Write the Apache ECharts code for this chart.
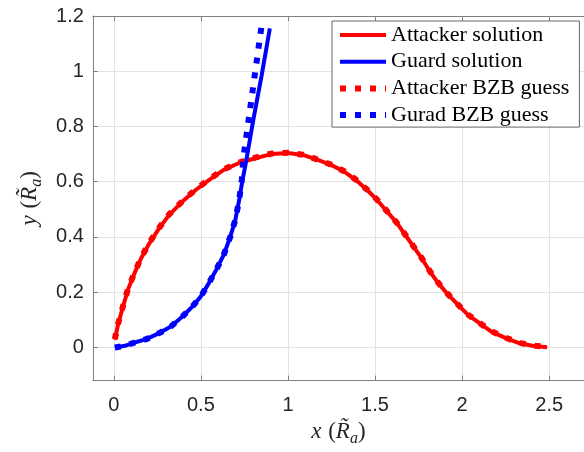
<!DOCTYPE html>
<html><head><meta charset="utf-8">
<script src="https://cdn.jsdelivr.net/npm/echarts@6/dist/echarts.min.js"></script>
<style>html,body{margin:0;padding:0;background:#fff}#c{width:584px;height:452px}</style>
</head><body><div id="c"></div>
<script>
const xTicks = [0, 0.5, 1, 1.5, 2, 2.5];
const yTicks = [0, 0.2, 0.4, 0.6, 0.8, 1, 1.2];
const seriesNames = ['Attacker solution', 'Guard solution', 'Attacker BZB guess', 'Gurad BZB guess'];

const attackerX = [0.006,0.024,0.053,0.081,0.119,0.157,0.205,0.261,0.318,0.394,0.47,0.546,0.631,0.716,0.811,0.906,1.0,1.086,1.171,1.247,1.323,1.389,1.455,1.512,1.569,1.626,1.673,1.721,1.768,1.815,1.863,1.92,1.977,2.034,2.1,2.166,2.251,2.327,2.403,2.488];
const attackerY = [0.028,0.082,0.148,0.209,0.269,0.323,0.378,0.432,0.48,0.528,0.570,0.606,0.643,0.667,0.685,0.700,0.704,0.697,0.679,0.661,0.637,0.607,0.570,0.534,0.492,0.450,0.408,0.365,0.323,0.275,0.233,0.191,0.154,0.118,0.088,0.058,0.034,0.016,0.006,0.001];

const guardX = [0.006,0.063,0.11,0.186,0.261,0.328,0.394,0.451,0.499,0.546,0.593,0.631,0.669,0.698,0.72,0.739,0.758,0.8,0.849,0.896];
const guardY = [0.0,0.006,0.016,0.03,0.052,0.076,0.112,0.148,0.184,0.233,0.287,0.335,0.401,0.462,0.534,0.606,0.667,0.82,0.985,1.155];

const attackerGuessX = [0.006,0.024,0.053,0.081,0.119,0.157,0.205,0.261,0.318,0.394,0.47,0.546,0.631,0.716,0.811,0.906,1.0,1.086,1.171,1.247,1.323,1.389,1.455,1.512,1.569,1.626,1.673,1.721,1.768,1.815,1.863,1.92,1.977,2.034,2.1,2.166,2.251,2.327,2.403,2.488];
const attackerGuessY = [0.030,0.084,0.150,0.211,0.271,0.325,0.380,0.434,0.482,0.530,0.572,0.608,0.645,0.669,0.687,0.702,0.705,0.698,0.680,0.662,0.638,0.608,0.571,0.535,0.493,0.451,0.409,0.366,0.324,0.276,0.234,0.192,0.155,0.119,0.089,0.059,0.035,0.017,0.007,0.002];

const guardGuessX = [0.006,0.063,0.11,0.186,0.261,0.328,0.394,0.451,0.499,0.546,0.593,0.631,0.669,0.698,0.72,0.735,0.745,0.792,0.83,0.849];
const guardGuessY = [0.0,0.006,0.016,0.03,0.052,0.076,0.112,0.148,0.184,0.233,0.287,0.335,0.401,0.462,0.534,0.606,0.69,0.906,1.08,1.167];

function pairs(xs, ys) { return xs.map((x, i) => [x, ys[i]]); }

const axisCol = '#808080';
const labelStyle = { color: '#262626', fontFamily: 'Liberation Sans', fontSize: 20 };
const mathRich = {
  i: { fontFamily: 'Liberation Serif', fontStyle: 'italic', fontSize: 23, color: '#262626' },
  u: { fontFamily: 'Liberation Serif', fontSize: 23, color: '#262626' },
  s: { fontFamily: 'Liberation Serif', fontStyle: 'italic', fontSize: 16, color: '#262626', padding: [14, 0, 0, 0] }
};

const chart = echarts.init(document.getElementById('c'), null, { renderer: 'canvas' });
chart.setOption({
  animation: false,
  backgroundColor: '#fff',
  grid: { left: 92.9, right: -4.9, top: 16, bottom: 71, containLabel: false },
  legend: {
    orient: 'vertical', left: 332, top: 21,
    itemWidth: 46, itemHeight: 14, itemGap: 4.7,
    padding: [3, 10, 1, 5],
    backgroundColor: '#fff', borderColor: '#666', borderWidth: 1,
    itemStyle: { opacity: 0 },
    lineStyle: { width: 'inherit' },
    textStyle: { fontFamily: 'Liberation Serif', fontSize: 22, lineHeight: 22, color: '#000' },
    data: seriesNames
  },
  xAxis: [{
    type: 'value', min: -0.12, max: 2.7, position: 'bottom',
    axisLine: { show: true, onZero: false, lineStyle: { color: axisCol } },
    axisTick: { show: true, inside: true, length: 5, customValues: xTicks, lineStyle: { color: axisCol } },
    axisLabel: Object.assign({ customValues: xTicks, margin: 15 }, labelStyle),
    splitLine: { show: true, lineStyle: { color: '#e3e3e3', width: 1 } },
    name: '{i|x}  {u|(}{i|R\u0303}{s|a}{u|)}', nameLocation: 'middle', nameGap: 34,
    nameTextStyle: { rich: mathRich }
  }, {
    type: 'value', min: -0.12, max: 2.7, position: 'top',
    axisLine: { show: true, onZero: false, lineStyle: { color: axisCol } },
    axisTick: { show: true, inside: true, length: 5, customValues: xTicks, lineStyle: { color: axisCol } },
    axisLabel: { show: false, customValues: xTicks },
    splitLine: { show: false }
  }],
  yAxis: [{
    type: 'value', min: -0.12, max: 1.2,
    axisLine: { show: true, onZero: false, lineStyle: { color: axisCol } },
    axisTick: { show: true, inside: true, length: 5, customValues: yTicks, lineStyle: { color: axisCol } },
    axisLabel: Object.assign({ customValues: yTicks, margin: 9 }, labelStyle),
    splitLine: { show: true, lineStyle: { color: '#e3e3e3', width: 1 } },
    name: '{i|y}  {u|(}{i|R\u0303}{s|a}{u|)}', nameLocation: 'middle', nameGap: 48, nameRotate: 90,
    nameTextStyle: { rich: mathRich }
  }],
  series: [
    { name: seriesNames[0], type: 'line', data: pairs(attackerX, attackerY), symbol: 'none', smooth: false,
      lineStyle: { color: '#ff0000', width: 4 }, itemStyle: { color: '#ff0000' }, z: 2 },
    { name: seriesNames[1], type: 'line', data: pairs(guardX, guardY), symbol: 'none',
      lineStyle: { color: '#0000ff', width: 4 }, itemStyle: { color: '#0000ff' }, z: 3 },
    { name: seriesNames[2], type: 'line', data: pairs(attackerGuessX, attackerGuessY), symbol: 'none',
      lineStyle: { color: '#ff0000', width: 6, type: [6, 9], cap: 'butt' }, itemStyle: { color: '#ff0000' }, z: 4 },
    { name: seriesNames[3], type: 'line', data: pairs(guardGuessX, guardGuessY), symbol: 'none',
      lineStyle: { color: '#0000ff', width: 6, type: [6, 9], cap: 'butt' }, itemStyle: { color: '#0000ff' }, z: 5 }
  ]
});
</script></body></html>
